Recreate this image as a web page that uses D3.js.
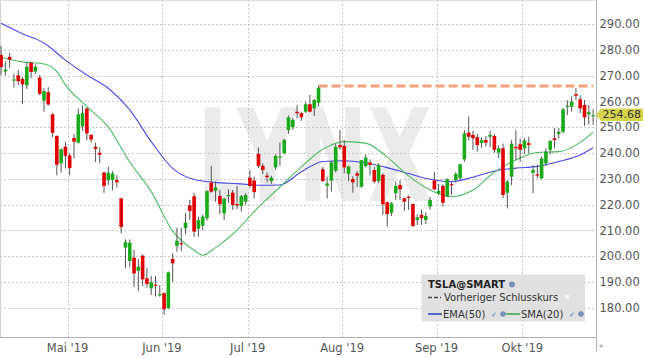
<!DOCTYPE html>
<html><head><meta charset="utf-8">
<script src="https://cdn.jsdelivr.net/npm/d3@7"></script>
<style>body{margin:0;background:#fff;} svg{display:block;font-family:"DejaVu Sans",sans-serif;}</style>
</head><body><svg id="c" width="645" height="358"></svg>
<script>
const dates = [
"2019-04-08","2019-04-09","2019-04-10","2019-04-11","2019-04-12","2019-04-15","2019-04-16","2019-04-17","2019-04-18","2019-04-22","2019-04-23","2019-04-24","2019-04-25","2019-04-26","2019-04-29","2019-04-30",
"2019-05-01","2019-05-02","2019-05-03","2019-05-06","2019-05-07","2019-05-08","2019-05-09","2019-05-10","2019-05-13","2019-05-14","2019-05-15","2019-05-16","2019-05-17","2019-05-20","2019-05-21","2019-05-22","2019-05-23","2019-05-24","2019-05-28","2019-05-29","2019-05-30","2019-05-31",
"2019-06-03","2019-06-04","2019-06-05","2019-06-06","2019-06-07","2019-06-10","2019-06-11","2019-06-12","2019-06-13","2019-06-14","2019-06-17","2019-06-18","2019-06-19","2019-06-20","2019-06-21","2019-06-24","2019-06-25","2019-06-26","2019-06-27","2019-06-28",
"2019-07-01","2019-07-02","2019-07-03","2019-07-05","2019-07-08","2019-07-09","2019-07-10","2019-07-11","2019-07-12","2019-07-15","2019-07-16","2019-07-17","2019-07-18","2019-07-19","2019-07-22","2019-07-23","2019-07-24","2019-07-25","2019-07-26","2019-07-29","2019-07-30","2019-07-31",
"2019-08-01","2019-08-02","2019-08-05","2019-08-06","2019-08-07","2019-08-08","2019-08-09","2019-08-12","2019-08-13","2019-08-14","2019-08-15","2019-08-16","2019-08-19","2019-08-20","2019-08-21","2019-08-22","2019-08-23","2019-08-26","2019-08-27","2019-08-28","2019-08-29","2019-08-30",
"2019-09-03","2019-09-04","2019-09-05","2019-09-06","2019-09-09","2019-09-10","2019-09-11","2019-09-12","2019-09-13","2019-09-16","2019-09-17","2019-09-18","2019-09-19","2019-09-20","2019-09-23","2019-09-24","2019-09-25","2019-09-26","2019-09-27","2019-09-30",
"2019-10-01","2019-10-02","2019-10-03","2019-10-04","2019-10-07","2019-10-08","2019-10-09","2019-10-10","2019-10-11","2019-10-14","2019-10-15","2019-10-16","2019-10-17","2019-10-18","2019-10-21","2019-10-22","2019-10-23"];

const openP = [278.0,271.6,277.3,268.2,270.1,268.7,266.2,275.0,271.5,269.2,260.3,263.6,255.0,246.6,236.0,242.4,
239.0,245.8,244.0,250.3,257.2,247.0,242.4,240.1,232.4,229.4,229.5,229.5,222.4,203.3,198.1,199.4,194.3,200.2,191.4,187.5,188.9,184.8,
185.6,179.8,198.9,204.0,205.0,210.8,219.7,223.2,210.6,211.8,214.7,228.5,225.4,223.3,216.6,223.3,224.6,220.2,219.4,221.1,
230.4,229.3,239.6,235.0,231.2,229.1,234.4,238.3,239.9,248.9,250.0,256.0,255.4,256.0,258.9,257.3,259.5,233.7,227.3,229.3,233.1,243.1,
242.7,231.9,229.9,232.1,226.9,234.9,236.3,233.4,229.1,231.5,220.9,216.8,224.4,227.6,222.4,223.0,220.2,214.0,216.0,214.0,219.2,229.3,
224.4,227.2,223.3,227.9,229.5,230.2,237.5,247.9,247.0,246.1,243.8,245.0,246.3,246.6,240.1,241.8,224.6,230.8,242.4,243.4,
241.8,243.8,232.3,231.7,230.2,236.0,241.2,245.7,247.4,248.2,257.9,257.9,262.8,260.8,258.6,255.0,254.4];
const highP = [281.4,275.5,278.8,270.7,272.2,269.5,275.2,275.4,274.3,270.2,265.1,265.5,255.4,246.8,241.8,244.4,
240.0,247.3,257.2,258.4,257.7,247.3,244.0,242.2,232.8,234.7,233.0,231.4,222.6,206.5,206.5,202.5,199.0,200.6,195.3,192.3,192.3,188.8,
186.0,194.0,201.1,211.0,211.0,216.6,221.8,224.5,215.3,216.0,225.5,234.9,228.9,225.6,222.6,225.9,225.6,227.2,223.7,224.4,
233.4,230.8,242.1,236.0,232.4,231.2,239.5,244.0,245.5,254.5,253.5,258.6,256.0,259.8,262.5,261.0,266.0,234.7,230.8,237.0,243.5,248.9,
245.0,235.2,231.0,233.0,237.2,239.5,237.5,234.7,236.0,232.1,221.1,221.0,229.0,229.4,222.8,223.6,220.2,216.2,218.0,217.0,223.0,232.7,
228.0,227.8,230.2,228.6,232.5,235.8,248.9,254.1,248.5,247.5,246.0,246.5,248.5,247.2,243.0,243.6,229.5,245.0,248.9,245.6,
245.7,246.3,235.3,235.5,238.5,241.8,245.0,249.6,249.6,257.5,260.5,262.0,265.1,262.3,260.5,258.6,257.0];
const lowP = [270.2,270.0,273.0,265.4,266.3,258.9,264.8,269.0,270.6,262.4,256.0,258.4,246.2,231.3,232.4,234.0,
231.3,237.9,243.7,248.6,245.0,244.0,236.5,236.0,224.5,227.6,225.4,226.6,208.8,195.3,195.8,188.0,186.4,188.4,187.8,184.9,184.3,184.3,
177.2,179.5,190.0,201.7,202.0,208.5,214.0,207.5,207.5,210.0,213.8,224.6,221.1,216.3,214.0,220.7,217.9,218.2,217.3,220.0,
226.5,222.4,234.1,231.8,228.6,228.0,233.5,235.0,239.5,247.5,249.0,253.5,252.4,255.5,255.8,254.3,258.0,228.9,222.4,225.0,232.5,241.2,
232.1,229.0,224.6,226.8,226.5,234.5,231.3,228.3,228.3,216.0,211.4,215.5,221.8,221.7,217.6,217.9,211.4,212.1,212.1,212.5,218.0,225.6,
223.7,219.2,222.8,223.7,228.5,229.5,236.6,244.8,241.2,240.5,242.0,242.5,242.2,240.0,238.0,222.5,218.5,227.6,237.3,236.6,
239.6,239.9,224.4,230.2,229.8,235.0,239.5,241.8,245.7,247.6,254.7,256.0,260.5,255.4,250.5,251.1,250.9];
const closeP = [273.3,272.3,276.2,268.5,267.8,266.6,273.4,271.4,273.4,262.9,264.0,258.8,247.8,235.4,241.4,238.9,
234.2,244.4,255.0,255.5,247.6,245.2,241.6,239.3,227.2,232.3,232.0,228.6,211.3,205.5,205.2,193.3,195.9,191.0,189.2,189.9,188.4,185.3,
179.4,193.7,197.2,206.0,204.6,213.0,217.5,209.5,214.0,215.3,225.2,225.0,226.6,220.1,222.2,223.7,219.8,219.6,223.2,223.7,
227.2,224.8,235.0,233.4,230.6,230.4,238.8,238.7,245.0,253.8,252.8,255.4,253.8,258.9,256.0,260.5,265.3,229.1,228.2,236.3,242.4,242.2,
234.4,234.7,228.6,231.2,237.2,238.2,235.4,228.9,235.3,220.1,216.3,220.5,227.2,225.9,221.1,222.7,211.7,215.0,214.7,215.6,221.8,225.9,
225.3,220.7,229.8,227.6,231.9,235.6,247.6,246.3,245.7,243.1,245.0,244.0,247.0,241.2,241.8,223.7,228.9,243.6,241.8,241.2,
244.8,243.1,233.4,231.2,237.9,240.5,244.6,245.0,248.2,256.9,258.3,259.9,262.2,257.3,253.8,255.8,254.68];

// EMA(50) at selected trading-day indexes
const emaIdx = [0,5,10,15,20,25,30,35,40,45,50,55,60,65,70,75,80,85,90,95,100,105,110,115,120,125,130,135,138];
const ema50 = [290.3,286.2,282.6,276.0,270.2,265.1,256.7,244.4,234.0,229.7,228.6,228.1,227.5,227.6,232.7,236.7,237.0,236.1,234.3,232.0,229.8,228.9,230.6,233.0,234.1,234.8,236.7,239.2,242.0];
// SMA(20)
const smaIdx = [0,5,10,13,15,20,25,30,35,40,45,47,50,55,60,65,70,75,80,85,90,95,100,105,110,115,120,125,130,135,138];
const sma20 = [277.1,275.3,274.5,271.5,266.4,258.0,250.0,236.5,225.0,209.7,202.3,200.4,203.3,210.1,219.0,226.8,234.6,241.4,244.4,243.8,238.4,231.1,225.6,223.0,225.6,232.6,237.3,240.2,240.5,244.1,248.1];

const prevCloseStart = "2019-07-24";
const prevClose = 266.0;
const lastPrice = 254.68;

const yTicks = [180,190,200,210,220,230,240,250,260,270,280,290];
const monthTickDates = ["2019-05-01","2019-06-03","2019-07-01","2019-08-01","2019-09-03","2019-10-01"];
const monthTickLabels = ["Mai '19","Jun '19","Jul '19","Aug '19","Sep '19","Okt '19"];

const svg = d3.select("#c");
const plotR = 596, plotB = 337;

const x = d3.scalePoint().domain(dates).range([1.06, 593.1]);
const step = x.step();
const y = d3.scaleLinear().domain([180, 290]).range([307.7, 24]);

const defs = svg.append("defs");
defs.append("clipPath").attr("id","plot").append("rect").attr("x",0).attr("y",0).attr("width",plotR).attr("height",plotB);
const blur = defs.append("filter").attr("id","blur").attr("x","-10%").attr("y","-200%").attr("width","120%").attr("height","500%");
blur.append("feGaussianBlur").attr("stdDeviation",1.5);

// watermark
svg.append("text").attr("x",197).attr("y",201).attr("font-size",128).attr("font-weight","bold")
  .attr("fill","#ebebeb").attr("textLength",235).attr("lengthAdjust","spacingAndGlyphs").text("LYNX");

// grid
const g = svg.append("g");
g.selectAll("line.hg").data(yTicks).join("line")
  .attr("x1",0).attr("x2",plotR).attr("y1",d=>Math.round(y(d))+0.5).attr("y2",d=>Math.round(y(d))+0.5)
  .attr("stroke","#c8c8c8").attr("stroke-dasharray","2,2");
g.selectAll("line.vg").data(monthTickDates).join("line")
  .attr("x1",d=>Math.round(x(d)-step/2)+0.5).attr("x2",d=>Math.round(x(d)-step/2)+0.5).attr("y1",0).attr("y2",plotB)
  .attr("stroke","#c8c8c8").attr("stroke-dasharray","2,2");

// borders
svg.append("line").attr("x1",0.5).attr("x2",0.5).attr("y1",0).attr("y2",plotB).attr("stroke","#d0d0d0");
svg.append("line").attr("x1",0).attr("x2",plotR).attr("y1",0.5).attr("y2",0.5).attr("stroke","#e0e0e0");
svg.append("line").attr("x1",0).attr("x2",plotR).attr("y1",plotB+0.5).attr("y2",plotB+0.5).attr("stroke","#b0b0b0");
svg.append("line").attr("x1",plotR+0.5).attr("x2",plotR+0.5).attr("y1",0).attr("y2",351).attr("stroke","#b0b0b0");

const plot = svg.append("g").attr("clip-path","url(#plot)");

// prev close dashed line
const pcx1 = x(prevCloseStart), pcx2 = x(dates[dates.length-1]);
plot.append("line").attr("x1",pcx1).attr("x2",pcx2).attr("y1",y(prevClose)+3).attr("y2",y(prevClose)+3)
  .attr("stroke","#999").attr("stroke-opacity",0.45).attr("stroke-width",3).attr("stroke-dasharray","9,4").attr("filter","url(#blur)");
plot.append("line").attr("x1",pcx1).attr("x2",pcx2).attr("y1",y(prevClose)).attr("y2",y(prevClose))
  .attr("stroke","#f5a07c").attr("stroke-width",3).attr("stroke-dasharray","9,4");

// moving averages
const lineGen = d3.line().x(d=>x(dates[d[0]])).y(d=>y(d[1])).curve(d3.curveMonotoneX);
plot.append("path").datum(emaIdx.map((k,i)=>[k,ema50[i]])).attr("d",lineGen)
  .attr("fill","none").attr("stroke","#4a4ae8").attr("stroke-width",1.1);
plot.append("path").datum(smaIdx.map((k,i)=>[k,sma20[i]])).attr("d",lineGen)
  .attr("fill","none").attr("stroke","#4cbb64").attr("stroke-width",1.1);

// candles
const data = dates.map((d,i)=>({d,o:openP[i],h:highP[i],l:lowP[i],c:closeP[i]}));
const cg = plot.append("g");
cg.selectAll("line.w").data(data).join("line")
  .attr("x1",d=>x(d.d)).attr("x2",d=>x(d.d)).attr("y1",d=>y(d.h)).attr("y2",d=>y(d.l))
  .attr("stroke","#555").attr("stroke-width",1);
cg.selectAll("rect.b").data(data).join("rect")
  .attr("x",d=>x(d.d)-1.8).attr("width",3.6)
  .attr("y",d=>Math.min(y(d.o),y(d.c))).attr("height",d=>Math.max(1.2,Math.abs(y(d.o)-y(d.c))))
  .attr("fill",d=>d.c>=d.o?"#1aaa1a":"#e00000");

// y axis labels
svg.selectAll("text.yl").data(yTicks).join("text")
  .attr("x",599.5).attr("y",d=>y(d)+4.2).attr("font-size",11.5).attr("fill","#555").text(d=>d.toFixed(2));

// x axis labels
svg.selectAll("text.xl").data(monthTickDates).join("text")
  .attr("x",d=>x(d)-step/2).attr("y",352).attr("text-anchor","middle").attr("font-size",11.5).attr("fill","#555")
  .text((d,i)=>monthTickLabels[i]);
svg.append("text").attr("x",601).attr("y",351).attr("text-anchor","middle").attr("font-size",9).attr("fill","#888").text("*");

// last price callout
const ly = y(lastPrice);
svg.append("path").attr("d",`M${plotR},${ly} L${plotR+5},${ly-6.5} L643,${ly-6.5} L643,${ly+6} L${plotR+5},${ly+6} Z`)
  .attr("fill","#d8d44c");
svg.append("text").attr("x",602.5).attr("y",ly+3.4).attr("font-size",11).attr("fill","#333").text(lastPrice.toFixed(2));

// legend
const lg = svg.append("g");
lg.append("rect").attr("x",421.5).attr("y",274.5).attr("width",163.5).attr("height",47).attr("fill","#dedede").attr("fill-opacity",0.92);
lg.append("text").attr("x",428).attr("y",288).attr("font-size",10).attr("font-weight","bold").attr("fill","#222").text("TSLA@SMART");
lg.append("circle").attr("cx",512).attr("cy",284.5).attr("r",3).attr("fill","#7a8fb5");
lg.append("line").attr("x1",428).attr("x2",441).attr("y1",297.5).attr("y2",297.5).attr("stroke","#444").attr("stroke-width",1.3).attr("stroke-dasharray","4,2");
lg.append("text").attr("x",444).attr("y",301).attr("font-size",10).attr("fill","#333").text("Vorheriger Schlusskurs");
lg.append("rect").attr("x",565).attr("y",294.5).attr("width",5).attr("height",5).attr("fill","#f4f4f4").attr("stroke","#ddd").attr("stroke-width",0.5);
lg.append("line").attr("x1",428).attr("x2",442).attr("y1",314).attr("y2",314).attr("stroke","#2233bb").attr("stroke-width",1.4);
lg.append("text").attr("x",443).attr("y",317.5).attr("font-size",10).attr("fill","#333").text("EMA(50)");
lg.append("text").attr("x",491).attr("y",317).attr("font-size",7).attr("fill","#4a7fd4").text("✓");
lg.append("circle").attr("cx",503).attr("cy",314).attr("r",2.8).attr("fill","#7a8fb5");
lg.append("line").attr("x1",506).attr("x2",520).attr("y1",314).attr("y2",314).attr("stroke","#2e9e3e").attr("stroke-width",1.4);
lg.append("text").attr("x",521).attr("y",317.5).attr("font-size",10).attr("fill","#333").text("SMA(20)");
lg.append("text").attr("x",569).attr("y",317).attr("font-size",7).attr("fill","#4a7fd4").text("✓");
lg.append("circle").attr("cx",581).attr("cy",314).attr("r",2.8).attr("fill","#7a8fb5");
</script></body></html>
